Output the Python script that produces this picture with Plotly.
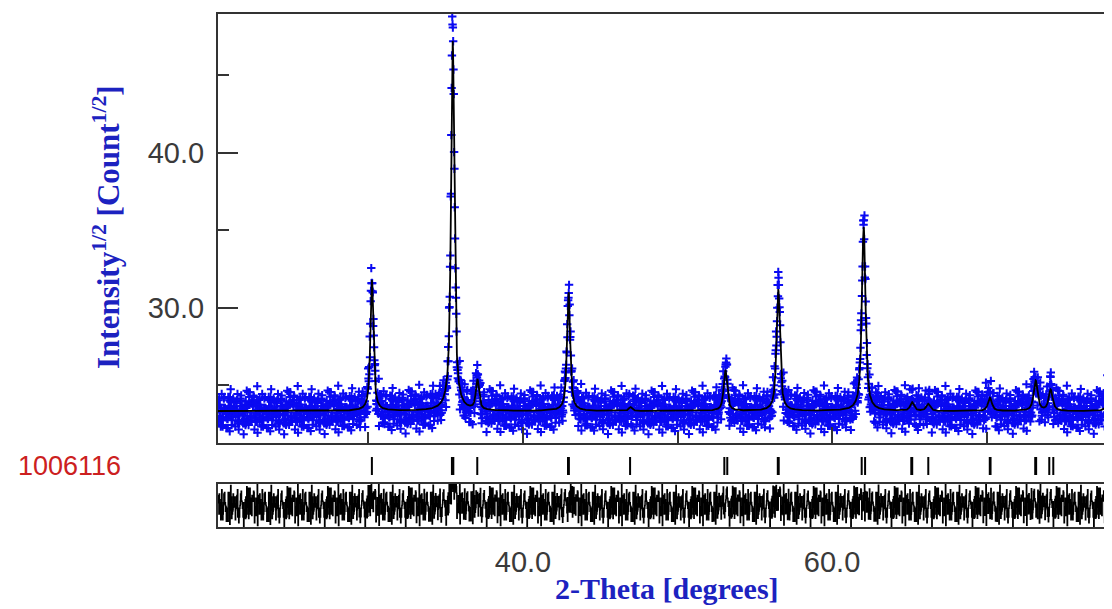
import numpy as np
import plotly.graph_objects as go

# ---------------- data ----------------
# peak list (2-theta, degrees) with sqrt(intensity) maxima of calc and obs, FWHM
peak_pos    = [30.22, 35.45, 37.05, 42.95, 46.95, 53.10, 56.52, 62.05, 65.18, 66.22, 70.22, 73.18, 74.15, 77.95]
calc_height = [31.8,  47.2,  25.3,  31.0,  23.6,  26.0,  31.2,  35.2,  23.9,  23.8,  24.2,  25.3,  24.7,  24.4]
obs_height  = [32.2,  48.8,  25.6,  31.5,  23.6,  26.4,  31.6,  35.6,  23.9,  23.8,  24.3,  25.6,  24.8,  24.5]
peak_fwhm   = [0.22,  0.22,  0.24,  0.23,  0.24,  0.26,  0.25,  0.26,  0.28,  0.28,  0.30,  0.30,  0.30,  0.32]
background  = 23.35           # sqrt(counts) level of the flat background
eta         = 0.75            # Lorentzian fraction of the profile

# reflection markers of phase 1006116
refl_pos = [30.22, 35.40, 35.49, 37.04, 42.91, 42.97, 46.93, 53.03, 53.22, 56.49, 56.55,
            61.92, 62.14, 65.13, 65.19, 66.23, 70.21, 70.26, 73.15, 73.21, 74.06, 74.32, 77.95]
phase_label = "1006116"

# observed residuals (sqrt-count units), read as the scatter about the calc line
residuals = [0.3,-0.6,0.9,-0.2,0.1,-1.1,0.5,0.0,-0.4,0.7,-0.8,0.2,1.2,-0.3,-0.5,0.4,-0.1,0.8,-0.9,0.6,
             -1.4,0.2,0.3,-0.7,1.0,-0.2,0.5,-0.6,0.1,-0.3,0.7,-1.0,0.4,0.0,-0.5,1.3,-0.4,0.2,-0.8,0.6,
             0.1,-0.2,0.9,-1.2,0.3,-0.1,0.5,-0.7,0.8,-0.4,0.0,1.1,-0.6,0.2,-0.3,0.6,-0.9,0.4,-1.5,0.7,
             -0.1,0.3,-0.5,1.0,-0.8,0.2,0.5,-0.2,-0.6,0.9,0.1,-1.0,0.4,-0.3,0.7,-0.5,1.4,-0.7,0.0,0.3,
             -0.4,0.8,-1.1,0.5,-0.2,0.2,-0.6,0.6,-0.9,1.2,-0.1,0.4,-0.8,0.1,0.7,-0.3,-1.3,0.5,0.3,-0.5,
             0.9,-0.2,0.0,-0.7,1.1,-0.4,0.6,-1.0,0.2,-0.1,0.8,-0.6,0.4,-0.3,1.6,-0.8,0.1,-0.5,0.7,-0.2,
             0.3,-1.2,0.9,-0.4,0.5,0.0,-0.9,0.6,-0.1,0.2,-0.6]

x_start, x_end = 20.26, 78.12
obs_step, calc_step = 0.02, 0.01
x_ticks_major = [40, 60]
y_tick_labels = ["30.0", "40.0"]

# ---------------- profile model built from the peak list ----------------
def profile(x, heights):
    counts = np.full_like(x, background ** 2)
    for p, h, w in zip(peak_pos, heights, peak_fwhm):
        net = h ** 2 - background ** 2
        d = 2 * (x - p) / w
        lor = 1 / (1 + d ** 2)
        gau = np.exp(-np.log(2) * d ** 2)
        counts += net * (eta * lor + (1 - eta) * gau)
    return np.sqrt(counts)

x_calc = np.arange(x_start, x_end, calc_step)
y_calc = profile(x_calc, calc_height)

x_obs = np.arange(x_start, x_end, obs_step)
res = np.array(residuals)
idx = (np.arange(len(x_obs)) * 37) % len(res)
y_obs = profile(x_obs, obs_height) + res[idx]
y_diff = y_obs - profile(x_obs, calc_height)

# ---------------- figure ----------------
BLUE = "#0a0af2"
TITLE_BLUE = "#1c22c0"
AX = "#333333"

fig = go.Figure()
fig.add_trace(go.Scatter(x=x_obs, y=y_obs, mode="markers", xaxis="x", yaxis="y",
                         marker=dict(symbol="cross-thin", size=6, color=BLUE,
                                     line=dict(color=BLUE, width=2)),
                         hoverinfo="skip"))
fig.add_trace(go.Scatter(x=x_calc, y=y_calc, mode="lines", xaxis="x", yaxis="y",
                         line=dict(color="black", width=1.8), hoverinfo="skip"))
fig.add_trace(go.Scatter(x=refl_pos, y=[0.5] * len(refl_pos), mode="markers",
                         xaxis="x2", yaxis="y2",
                         marker=dict(symbol="line-ns", size=18,
                                     line=dict(color="black", width=2)),
                         hoverinfo="skip"))
fig.add_trace(go.Scatter(x=x_obs, y=y_diff, mode="lines", xaxis="x3", yaxis="y3",
                         line=dict(color="black", width=1.5, shape="hv"), hoverinfo="skip"))

tickfont = dict(family="Liberation Sans, Arial, sans-serif", size=29, color="#3a3a3a")

# page body adds an 8 px offset, so the figure is 8 px smaller than the window
W, H = 1104, 601
L, T, B = 210, 6, 82
PW, PH = W - L, H - T - B

fig.update_layout(
    width=W, height=H,
    margin=dict(l=L, r=0, t=T, b=B, pad=0),
    paper_bgcolor="white", plot_bgcolor="white",
    showlegend=False,
    xaxis=dict(domain=[0, 1], anchor="y", range=[x_start, x_end],
               showline=True, linecolor=AX, linewidth=2, mirror=True,
               showgrid=False, zeroline=False, showticklabels=False,
               ticks="inside", tickvals=x_ticks_major, ticklen=16, tickwidth=2, tickcolor=AX,
               minor=dict(tickvals=[30, 50, 70], ticks="inside", ticklen=11, tickwidth=2, tickcolor=AX)),
    yaxis=dict(domain=[0.1637, 1], anchor="x", range=[21.29, 48.94],
               showline=True, linecolor=AX, linewidth=2,
               showgrid=False, zeroline=False,
               ticks="inside", tickvals=[30, 40], ticktext=y_tick_labels,
               ticklen=20, tickwidth=2, tickcolor=AX,
               minor=dict(tickvals=[25, 35, 45], ticks="inside", ticklen=11, tickwidth=2, tickcolor=AX),
               tickfont=tickfont, ticklabelstandoff=6),
    xaxis2=dict(domain=[0, 1], anchor="y2", matches="x", range=[x_start, x_end],
                visible=False),
    yaxis2=dict(domain=[0.1014, 0.1365], anchor="x2", range=[0, 1], visible=False),
    xaxis3=dict(domain=[0, 1], anchor="y3", matches="x", range=[x_start, x_end],
                showline=True, linecolor=AX, linewidth=2, mirror=True,
                showgrid=False, zeroline=False, ticks="",
                tickvals=x_ticks_major, ticktext=["40.0", "60.0"],
                tickfont=tickfont, ticklabelstandoff=8),
    yaxis3=dict(domain=[0, 0.0838], anchor="x3", range=[-1.5, 1.5],
                showline=True, linecolor=AX, linewidth=2,
                showgrid=False, zeroline=False, showticklabels=False, ticks=""),
    annotations=[
        dict(text="Intensity<sup>1/2</sup> [Count<sup>1/2</sup>]", textangle=-90,
             xref="paper", yref="paper", x=(106 - 218) / PW, y=(527 - 227) / PH,
             showarrow=False, xanchor="center", yanchor="middle",
             font=dict(family="Liberation Serif, Times New Roman, serif", size=31,
                       color=TITLE_BLUE, weight="bold")),
        dict(text="2-Theta [degrees]",
             xref="paper", yref="paper", x=(667 - 218) / PW, y=(527 - 589) / PH,
             showarrow=False, xanchor="center", yanchor="middle",
             font=dict(family="Liberation Serif, Times New Roman, serif", size=30,
                       color=TITLE_BLUE, weight="bold")),
        dict(text=phase_label,
             xref="paper", yref="paper", x=(69 - 218) / PW, y=(527 - 466) / PH,
             showarrow=False, xanchor="center", yanchor="middle",
             font=dict(family="Liberation Sans, Arial, sans-serif", size=27, color="#cc2020")),
    ],
)

fig.write_html("out.html")
